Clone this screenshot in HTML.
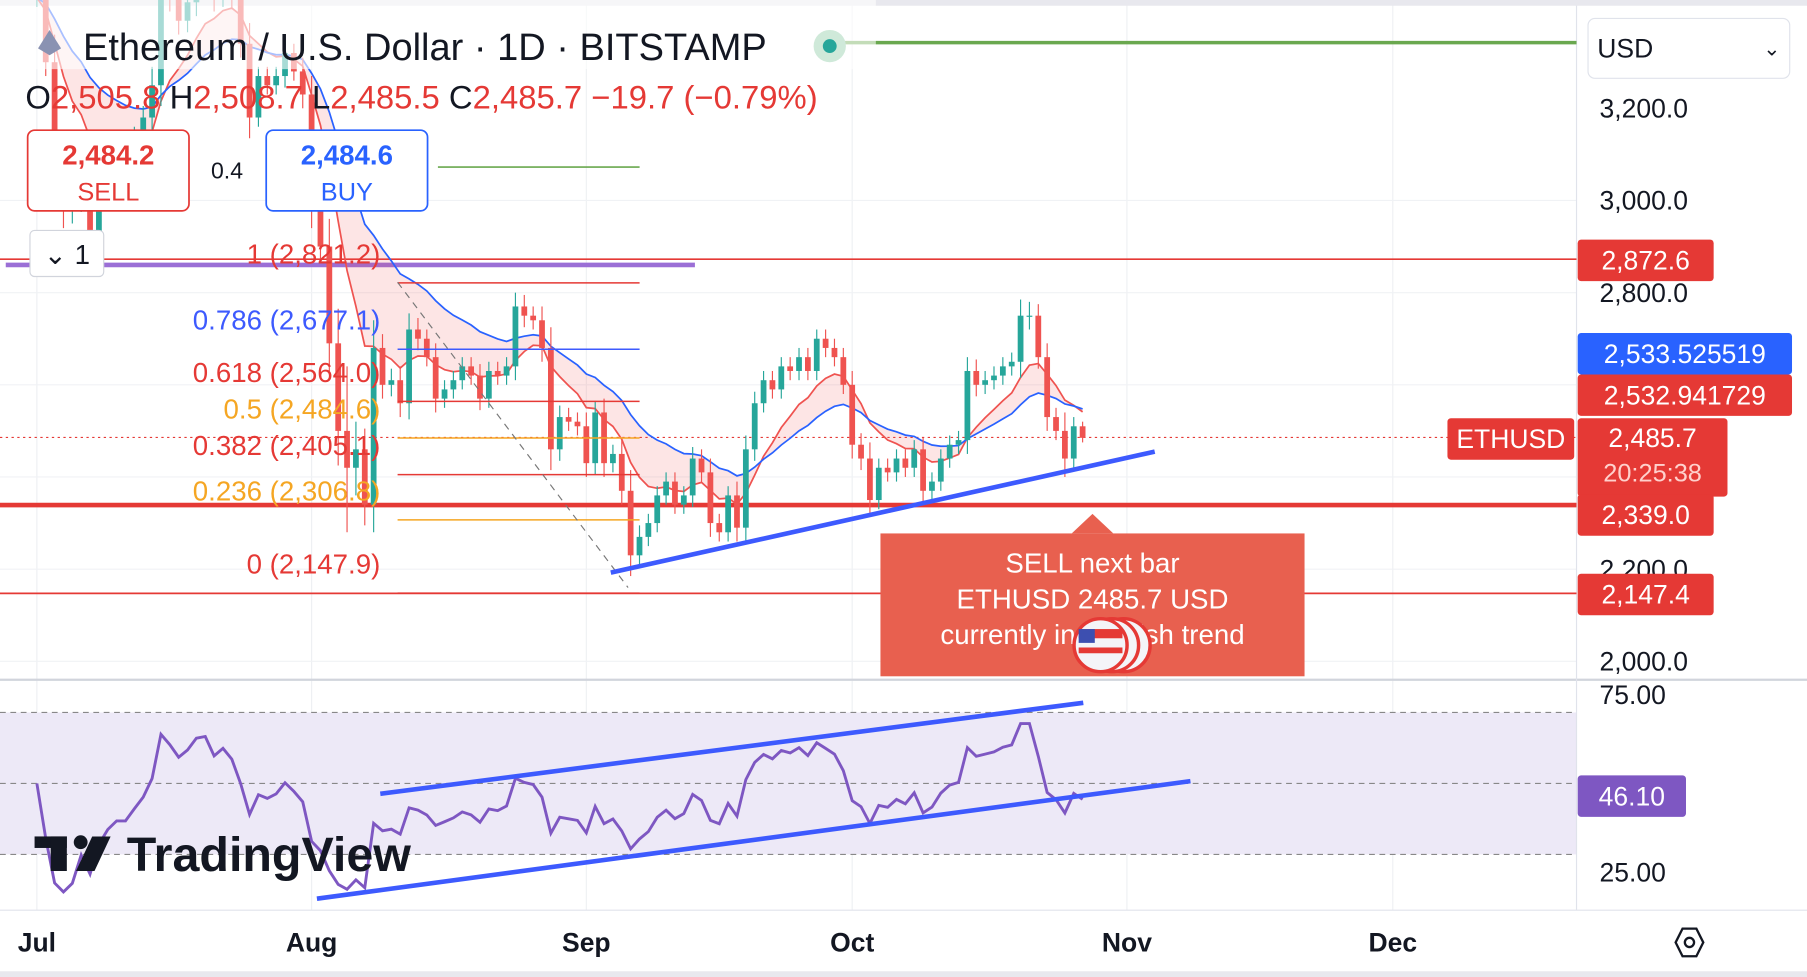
<!DOCTYPE html>
<html><head><meta charset="utf-8">
<style>
html,body{margin:0;padding:0;background:#fff;overflow:hidden}
svg{display:block;font-family:"Liberation Sans",sans-serif}
</style></head>
<body>
<svg id="chart" width="1807" height="977" viewBox="0 0 1568 848" preserveAspectRatio="none" xmlns="http://www.w3.org/2000/svg">
<rect x="0" y="0" width="1568" height="848" fill="#fff"/>
<g id="grid"></g>
<g id="static"></g>
<g id="marks"></g>
<g id="overlay"></g>
</svg>
<script>
// ---- data ----
const monthLabels = ["Jul","Aug","Sep","Oct","Nov","Dec"];
const monthDayOffsets = [0,31,62,92,123,153];
const priceTicks = [3200,3000,2800,2200,2000];
const rsiTicks = [75,25];
const closes = [3440,3300,3060,2980,3000,3070,2930,3020,3070,3100,3100,3140,3180,3250,3480,3440,3390,3430,3500,3510,3440,3480,3440,3340,3180,3270,3250,3270,3320,3280,3230,
2980,2900,2690,2500,2420,2460,2340,2680,2600,2610,2560,2720,2700,2660,2570,2590,2610,2640,2620,2570,2630,2620,2640,2770,2750,2740,2680,2460,2530,2520,2510,
2430,2540,2430,2450,2370,2230,2270,2300,2360,2390,2340,2360,2440,2410,2300,2280,2360,2290,2460,2560,2610,2590,2640,2630,2660,2630,2700,2680,2660,2600,
2470,2440,2350,2420,2410,2440,2420,2460,2370,2390,2440,2470,2480,2630,2600,2610,2620,2640,2650,2750,2750,2660,2530,2500,2440,2510,2485];
const wicks = [40,60,120,80,60,50,80,40,50,40,40,40,50,80,90,60,60,50,60,40,60,40,50,60,90,40,40,40,50,40,60,
80,60,120,150,280,120,90,120,60,50,60,70,50,40,60,40,40,40,40,50,40,40,40,60,50,40,60,90,50,40,40,
60,50,60,40,60,90,50,40,40,40,40,40,50,40,60,40,40,60,60,50,40,40,40,40,40,40,40,40,40,40,
60,50,70,40,40,40,40,40,50,40,40,40,40,60,50,40,40,40,40,70,60,50,60,40,80,40,20];
const fibLevels = [1,0.786,0.618,0.5,0.382,0.236,0];
const fibPrices = [2821.2,2677.1,2564.0,2484.6,2405.1,2306.8,2147.9];
const hLinePrices = [2872.6,2339.0,2147.4];

// ---- scales ----
const xDay = d => 32 + d*7.69;
const yP = p => 94 + (3200-p)*0.4;
const yR = v => 603 + (75-v)*3.08;
const NS="http://www.w3.org/2000/svg";
function mk(tag, attrs, parent){const e=document.createElementNS(NS,tag);for(const k in attrs)e.setAttribute(k,attrs[k]);parent.appendChild(e);return e;}
const grid=document.getElementById('grid'), st=document.getElementById('static'), marks=document.getElementById('marks'), ov=document.getElementById('overlay');
const fmt = p => p.toFixed(1).replace(/\B(?=(\d{3})+(?!\d))/,',');

monthDayOffsets.forEach((d,i)=>{
  const g=mk('line',{x1:xDay(d),x2:xDay(d),y1:0,y2:790,stroke:'#eef0f3','stroke-width':1},grid);
  
  
  const t=mk('text',{x:xDay(d),y:826,'font-size':23,'font-weight':'bold','text-anchor':'middle',fill:'#131722'},st);
  t.textContent=monthLabels[i];
  
  
});
[174,254,334,414,494,574].forEach(y=>mk('line',{x1:0,x2:1368,y1:y,y2:y,stroke:'#f0f2f5'},grid));
mk('line',{x1:0,x2:1568,y1:590,y2:590,stroke:'#d1d4dc','stroke-width':2},st);
mk('line',{x1:1368,x2:1368,y1:0,y2:790,stroke:'#e0e3eb'},st);
mk('line',{x1:0,x2:1568,y1:790,y2:790,stroke:'#e0e3eb'},st);
mk('rect',{x:0,y:0,width:1568,height:5,fill:'#e8e8ee'},st);
mk('rect',{x:0,y:843,width:1568,height:5,fill:'#e8e8ee'},st);

priceTicks.forEach(p=>{
  const t=mk('text',{x:1388,y:yP(p)+8,'font-size':23,fill:'#131722'},st);
  t.textContent=fmt(p);
  
  
});
rsiTicks.forEach(v=>{
  const t=mk('text',{x:1388,y:yR(v)+8,'font-size':23,fill:'#131722'},st);
  t.textContent=v.toFixed(2);
  
  
});

mk('rect',{x:0,y:yR(70),width:1368,height:yR(30)-yR(70),fill:'#ede9f7'},grid);
[70,50,30].forEach(v=>mk('line',{x1:0,x2:1368,y1:yR(v),y2:yR(v),stroke:'#888','stroke-dasharray':'5,4'},grid));

mk('line',{x1:0,x2:1368,y1:yP(hLinePrices[0]),y2:yP(hLinePrices[0]),stroke:'#e53935','stroke-width':1.5},marks);
mk('line',{x1:0,x2:1368,y1:yP(hLinePrices[1]),y2:yP(hLinePrices[1]),stroke:'#e53935','stroke-width':4},marks);
mk('line',{x1:0,x2:1368,y1:yP(hLinePrices[2]),y2:yP(hLinePrices[2]),stroke:'#e53935','stroke-width':1.5},marks);
mk('line',{x1:0,x2:1368,y1:yP(2485.7),y2:yP(2485.7),stroke:'#e53935','stroke-dasharray':'2,3'},marks);
mk('line',{x1:5,x2:603,y1:230,y2:230,stroke:'#9b6fd6','stroke-width':4},marks);
mk('line',{x1:720,x2:1368,y1:37,y2:37,stroke:'#6aa84f','stroke-width':3},marks);
mk('line',{x1:380,x2:555,y1:145,y2:145,stroke:'#6aa84f','stroke-width':1.5},marks);

function ema(n){const out=[];let e=closes[0];const k=2/(n+1);closes.forEach(c=>{e=c*k+e*(1-k);out.push(e);});return out;}
const emaFast=ema(9), emaSlow=ema(21);
let poly='';emaFast.forEach((v,i)=>poly+=xDay(i)+','+yP(v)+' ');
for(let i=emaSlow.length-1;i>=0;i--)poly+=xDay(i)+','+yP(emaSlow[i])+' ';
mk('polygon',{points:poly,fill:'rgba(239,83,80,0.15)'},marks);
const pf=mk('polyline',{points:emaFast.map((v,i)=>xDay(i)+','+yP(v)).join(' '),fill:'none',stroke:'#ef5350','stroke-width':1.5},marks);

const ps=mk('polyline',{points:emaSlow.map((v,i)=>xDay(i)+','+yP(v)).join(' '),fill:'none',stroke:'#2962ff','stroke-width':1.5},marks);


closes.forEach((c,i)=>{
  const o=i?closes[i-1]:c;const hi=Math.max(o,c)+wicks[i]*0.5, lo=Math.min(o,c)-wicks[i]*0.5;
  const col=c>=o?'#26a69a':'#ef5350';const x=xDay(i);
  const w=mk('line',{x1:x,x2:x,y1:yP(hi),y2:yP(lo),stroke:col,'stroke-width':1},marks);
  
  
  const b=mk('rect',{x:x-2.5,y:yP(Math.max(o,c)),width:5,height:Math.max(1,Math.abs(yP(o)-yP(c))),fill:col},marks);
  
  
});

const fibColors=['#e53935','#3d5afe','#e53935','#f5a623','#e53935','#f5a623','#e53935'];
fibLevels.forEach((lv,i)=>{
  const y=yP(fibPrices[i]);
  mk('line',{x1:345,x2:555,y1:y,y2:y,stroke:fibColors[i],'stroke-width':1.3},marks);
  const t=mk('text',{x:330,y:y-17,'font-size':24,'text-anchor':'end',fill:fibColors[i]},marks);
  t.textContent=lv+' ('+fmt(fibPrices[i])+')';
  
  
});
mk('line',{x1:345,x2:545,y1:245,y2:510,stroke:'#777','stroke-dasharray':'6,5'},marks);
mk('line',{x1:530,y1:497,x2:1002,y2:392,stroke:'#3d5afe','stroke-width':4},marks);

const rsi=[];let ag=12,al=12;
closes.forEach((c,i)=>{if(i==0){rsi.push(50);return;}const d=c-closes[i-1];const g=Math.max(d,0),l=Math.max(-d,0);
 ag=(ag*13+g)/14;al=(al*13+l)/14;rsi.push(100-100/(1+ag/al));});
const pr=mk('polyline',{points:rsi.map((v,i)=>xDay(i)+','+yR(v)).join(' '),fill:'none',stroke:'#7e57c2','stroke-width':2.5},marks);

mk('line',{x1:330,y1:689,x2:940,y2:610,stroke:'#3d5afe','stroke-width':4},marks);
mk('line',{x1:275,y1:780,x2:1033,y2:678,stroke:'#3d5afe','stroke-width':4},marks);

function lbl(x,y,w,h,bg,txt,col,name,ty){const g=mk('g',{},ov);
 mk('rect',{x,y,width:w,height:h,fill:bg,rx:3},g);const t=mk('text',{x:x+w/2,y:ty||(y+h/2+8),'font-size':23,'text-anchor':'middle',fill:col},g);t.textContent=txt;return g;}
lbl(1369,208,118,36,'#e53935','2,872.6','#fff','price-label-2872');
lbl(1369,289,186,36,'#2962ff','2,533.525519','#fff','price-label-blue');
lbl(1369,325,186,36,'#e53935','2,532.941729','#fff','price-label-red');
lbl(1369,363,130,68,'#e53935','2,485.7','#fff','price-label-current',388);
const cd=mk('text',{x:1434,y:418,'font-size':22,'text-anchor':'middle',fill:'#ffd0cc'},ov);cd.textContent='20:25:38';
lbl(1256,363,110,36,'#e53935','ETHUSD','#fff','symbol-label');
lbl(1369,429,118,36,'#e53935','2,339.0','#fff','price-label-2339');
lbl(1369,498,118,36,'#e53935','2,147.4','#fff','price-label-2147');
lbl(1369,673,94,36,'#7e57c2','46.10','#fff','rsi-value-label');
mk('polygon',{points:'930,463 948,446 966,463',fill:'#e8604f'},ov);
const pop=mk('g',{},ov);
mk('rect',{x:764,y:463,width:368,height:124,fill:'#e8604f'},pop);
['SELL next bar','ETHUSD 2485.7 USD','currently in bearish trend'].forEach((s,i)=>{const t=mk('text',{x:948,y:497+i*31,'font-size':24,'text-anchor':'middle',fill:'#fff'},pop);t.textContent=s;});
[975,965,955].forEach(cx=>mk('circle',{cx,cy:560,r:23,fill:'#f4f4f8',stroke:'#e53935','stroke-width':3},pop));
mk('rect',{x:936,y:546,width:38,height:8,fill:'#e53935'},pop);mk('rect',{x:936,y:546,width:14,height:12,fill:'#3d4fb0'},pop);
mk('rect',{x:936,y:562,width:38,height:5,fill:'#e53935'},pop);
mk('rect',{x:0,y:0,width:760,height:60,fill:'rgba(255,255,255,0.6)'},ov);
mk('polygon',{points:'43,26 53,42 43,48 33,42',fill:'#8a92b2'},ov);
const h=mk('text',{x:72,y:52,'font-size':33,fill:'#131722'},ov);h.textContent='Ethereum / U.S. Dollar · 1D · BITSTAMP';

mk('circle',{cx:720,cy:40,r:14,fill:'#cfe9d9'},ov);mk('circle',{cx:720,cy:40,r:6,fill:'#26a69a'},ov);
const ohlc=mk('text',{x:22,y:94,'font-size':28.5,fill:'#e53935'},ov);
ohlc.innerHTML='<tspan fill="#131722">O</tspan>2,505.8 <tspan fill="#131722">H</tspan>2,508.7 <tspan fill="#131722">L</tspan>2,485.5 <tspan fill="#131722">C</tspan>2,485.7 −19.7 (−0.79%)';

const sb=mk('g',{},ov);
mk('rect',{x:24,y:113,width:140,height:70,rx:6,fill:'#fff',stroke:'#e53935','stroke-width':1.5},sb);
let t=mk('text',{x:94,y:143,'font-size':24,'font-weight':'bold','text-anchor':'middle',fill:'#e53935'},sb);t.textContent='2,484.2';
t=mk('text',{x:94,y:174,'font-size':22,'text-anchor':'middle',fill:'#e53935'},sb);t.textContent='SELL';
t=mk('text',{x:197,y:155,'font-size':20,'text-anchor':'middle',fill:'#131722'},ov);t.textContent='0.4';
const bb=mk('g',{},ov);
mk('rect',{x:231,y:113,width:140,height:70,rx:6,fill:'#fff',stroke:'#2962ff','stroke-width':1.5},bb);
t=mk('text',{x:301,y:143,'font-size':24,'font-weight':'bold','text-anchor':'middle',fill:'#2962ff'},bb);t.textContent='2,484.6';
t=mk('text',{x:301,y:174,'font-size':22,'text-anchor':'middle',fill:'#2962ff'},bb);t.textContent='BUY';
const cl=mk('g',{},ov);
mk('rect',{x:26,y:200,width:64,height:40,rx:4,fill:'#fff',stroke:'#d1d4dc'},cl);
t=mk('text',{x:58,y:229,'font-size':24,'text-anchor':'middle',fill:'#131722'},cl);t.textContent='⌄ 1';
const cs=mk('g',{},ov);
mk('rect',{x:1378,y:16,width:175,height:52,rx:6,fill:'#fff',stroke:'#e0e3eb'},cs);
t=mk('text',{x:1386,y:50,'font-size':23,fill:'#131722'},cs);t.textContent='USD';
t=mk('text',{x:1530,y:48,'font-size':18,fill:'#131722'},cs);t.textContent='⌄';
const lg=mk('g',{},ov);
mk('rect',{x:30,y:726,width:28,height:10,fill:'#131722'},lg);mk('rect',{x:44,y:726,width:14,height:30,fill:'#131722'},lg);
mk('circle',{cx:70,cy:731,r:6,fill:'#131722'},lg);mk('polygon',{points:'80,726 96,726 82,756 66,756',fill:'#131722'},lg);
t=mk('text',{x:110,y:756,'font-size':42,'font-weight':'bold',fill:'#131722'},lg);t.textContent='TradingView';
const si=mk('g',{},ov);
mk('polygon',{points:'1454,818 1460,806 1472,806 1478,818 1472,830 1460,830',fill:'none',stroke:'#131722','stroke-width':2},si);
mk('circle',{cx:1466,cy:818,r:4,fill:'none',stroke:'#131722','stroke-width':2},si);
</script>
</body></html>
